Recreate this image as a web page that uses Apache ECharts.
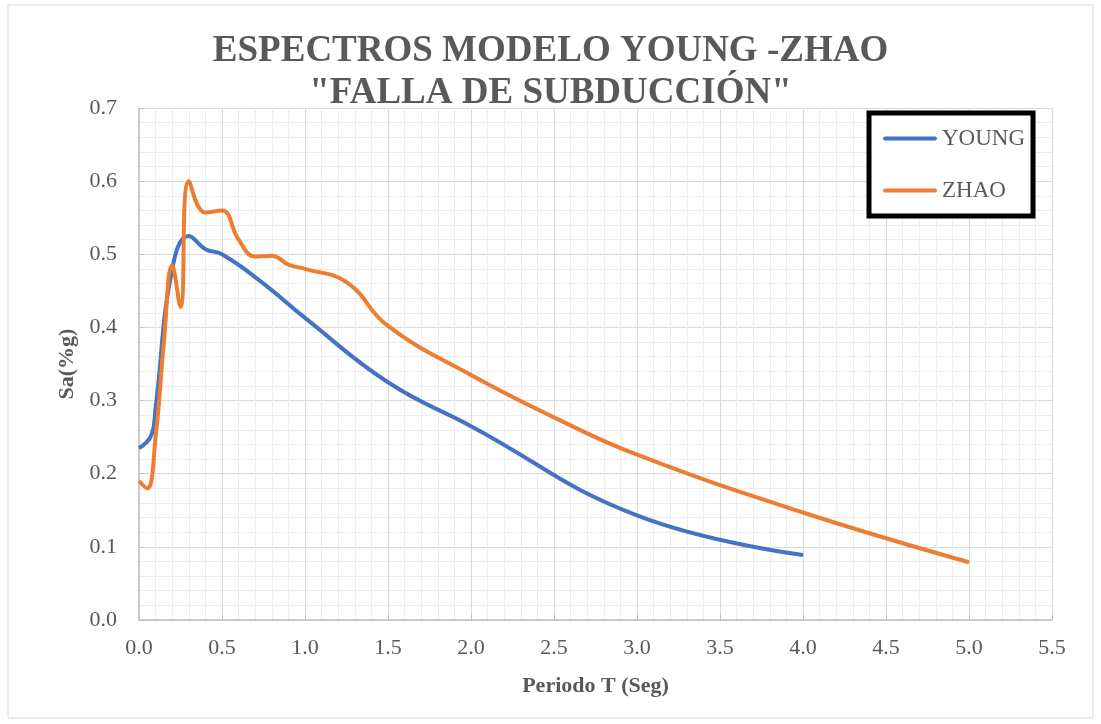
<!DOCTYPE html>
<html>
<head>
<meta charset="utf-8">
<script src="https://cdn.jsdelivr.net/npm/echarts@6/dist/echarts.min.js"></script>
<style>
html,body{margin:0;padding:0;background:#fff;}
#c{width:1101px;height:724px;}
</style>
</head>
<body>
<div id="c"></div>
<script>
// ---- data ----
const youngT  = [0, 0.075, 0.1, 0.2, 0.3, 0.4, 0.5, 0.75, 1.0, 1.5, 2.0, 3.0, 4.0];
const youngSa = [0.235, 0.253, 0.29, 0.48, 0.525, 0.507, 0.50, 0.46, 0.413, 0.325, 0.265, 0.143, 0.089];
const zhaoT   = [0, 0.05, 0.1, 0.15, 0.2, 0.25, 0.3, 0.4, 0.5, 0.6, 0.7, 0.8, 0.9, 1.0, 1.25, 1.5, 2.0, 2.5, 3.0, 4.0, 5.0];
const zhaoSa  = [0.19, 0.18, 0.25, 0.38, 0.485, 0.428, 0.60, 0.557, 0.56, 0.52, 0.497, 0.498, 0.486, 0.48, 0.462, 0.402, 0.335, 0.277, 0.226, 0.147, 0.079];
const seriesNames = ['YOUNG', 'ZHAO'];
const titleLines = ['ESPECTROS MODELO YOUNG -ZHAO', '"FALLA DE SUBDUCCIÓN"'];
const xName = 'Periodo T (Seg)';
const yName = 'Sa(%g)';

const FONT = "'Liberation Serif','Times New Roman',serif";
const TXT = '#595959';
const pairs = (xs, ys) => xs.map((x, i) => [x, ys[i]]);
const LINE_ICON = 'path://M2,0 L52,0 A2,2 0 0 1 52,4 L2,4 A2,2 0 0 1 2,0 Z';

const chart = echarts.init(document.getElementById('c'), null, {renderer: 'canvas'});
chart.setOption({
  animation: false,
  backgroundColor: '#fff',
  title: {
    text: titleLines.join('\n'),
    left: 'center',
    top: 25,
    textStyle: {fontFamily: FONT, fontSize: 37, fontWeight: 'bold', color: TXT, lineHeight: 42}
  },
  graphic: [
    {type: 'rect', shape: {x: 8, y: 5, width: 1085, height: 713}, style: {fill: 'none', stroke: '#D9D9D9', lineWidth: 1}, z: -10},
    {type: 'rect', shape: {x: 869, y: 113, width: 164, height: 103}, style: {fill: '#fff', stroke: '#000', lineWidth: 5}, z: 50}
  ],
  legend: [
    {data: [seriesNames[0]], left: 878, top: 122, itemWidth: 54, itemHeight: 4, icon: LINE_ICON, z: 60,
     textStyle: {fontFamily: FONT, fontSize: 23, color: TXT}},
    {data: [seriesNames[1]], left: 878, top: 174, itemWidth: 54, itemHeight: 4, icon: LINE_ICON, z: 60,
     textStyle: {fontFamily: FONT, fontSize: 23, color: TXT}}
  ],
  grid: {left: 139, right: 49, top: 108, bottom: 104, containLabel: false},
  xAxis: {
    type: 'value', min: 0, max: 5.5, interval: 0.5,
    name: xName, nameLocation: 'middle', nameGap: 55,
    nameTextStyle: {fontFamily: FONT, fontSize: 22, fontWeight: 'bold', color: TXT},
    axisLine: {show: true, lineStyle: {color: '#BFBFBF', width: 1.5}},
    axisTick: {show: true, inside: true, length: 6, lineStyle: {color: '#BFBFBF'}},
    axisLabel: {fontFamily: FONT, fontSize: 22, color: TXT, margin: 17, formatter: v => v.toFixed(1)},
    splitLine: {show: true, lineStyle: {color: '#D9D9D9', width: 1}},
    minorTick: {show: false, splitNumber: 5},
    minorSplitLine: {show: true, lineStyle: {color: '#EDEDED', width: 1}}
  },
  yAxis: {
    type: 'value', min: 0, max: 0.7, interval: 0.1,
    name: yName, nameLocation: 'middle', nameGap: 60, nameRotate: 90,
    nameTextStyle: {fontFamily: FONT, fontSize: 22, fontWeight: 'bold', color: TXT},
    axisLine: {show: true, lineStyle: {color: '#BFBFBF', width: 1.5}},
    axisTick: {show: true, inside: true, length: 6, lineStyle: {color: '#BFBFBF'}},
    axisLabel: {fontFamily: FONT, fontSize: 22, color: TXT, margin: 22, formatter: v => v.toFixed(1)},
    splitLine: {show: true, lineStyle: {color: '#D9D9D9', width: 1}},
    minorTick: {show: false, splitNumber: 5},
    minorSplitLine: {show: true, lineStyle: {color: '#EDEDED', width: 1}}
  },
  series: [
    {name: seriesNames[0], type: 'line', data: pairs(youngT, youngSa), smooth: 0.45, showSymbol: false, symbol: 'none',
     lineStyle: {color: '#4472C4', width: 4}, itemStyle: {color: '#4472C4'}, z: 3},
    {name: seriesNames[1], type: 'line', data: pairs(zhaoT, zhaoSa), smooth: 0.45, showSymbol: false, symbol: 'none',
     lineStyle: {color: '#ED7D31', width: 4}, itemStyle: {color: '#ED7D31'}, z: 4}
  ]
});
</script>
</body>
</html>
